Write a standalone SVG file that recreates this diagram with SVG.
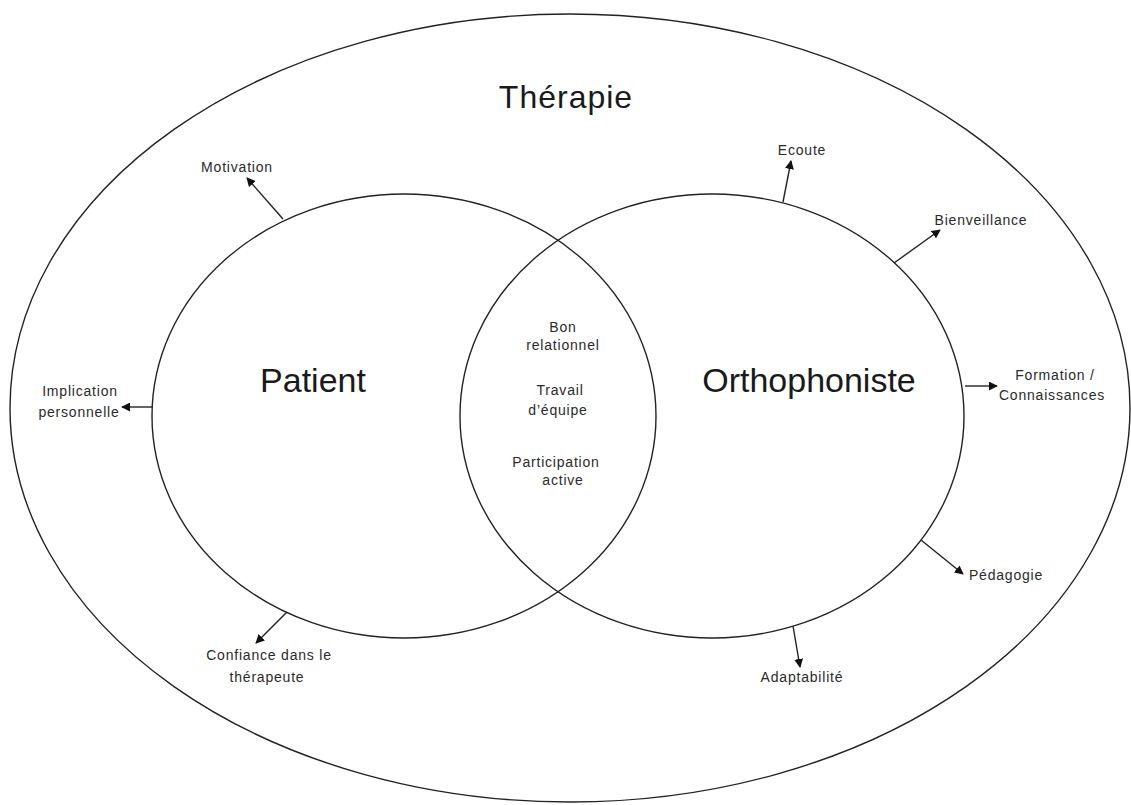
<svg xmlns="http://www.w3.org/2000/svg" width="1131" height="805" viewBox="0 0 1131 805">
<defs>
<marker id="ah" viewBox="0 0 10 10" refX="9" refY="5" markerWidth="9" markerHeight="9" markerUnits="userSpaceOnUse" orient="auto">
<path d="M0,0 L10,5 L0,10 z" fill="#111"/>
</marker>
<style>
.shape{fill:none;stroke:#222;stroke-width:1.4}
.conn{stroke:#222;stroke-width:1.4;fill:none;marker-end:url(#ah)}
.lbl{font-family:"Liberation Sans",Arial,sans-serif;font-size:14px;letter-spacing:0.8px;fill:#2a2a2a;text-anchor:middle}
.big{font-family:"Liberation Sans",Arial,sans-serif;font-size:34px;fill:#1a1a1a;text-anchor:middle}
</style>
</defs>
<rect width="1131" height="805" fill="#fff"/>
<g id="therapie">
<ellipse class="shape" cx="570" cy="408" rx="560" ry="394"/>
<text class="big" x="566" y="108" style="font-size:32px;letter-spacing:1px">Thérapie</text>
</g>
<g id="patient">
<ellipse class="shape" cx="404" cy="416" rx="252" ry="222"/>
<text class="big" x="313" y="392">Patient</text>
</g>
<g id="orthophoniste">
<ellipse class="shape" cx="712" cy="416" rx="252" ry="222"/>
<text class="big" x="809" y="392">Orthophoniste</text>
</g>
<g id="intersection">
<text class="lbl" x="563" y="332">Bon</text>
<text class="lbl" x="563" y="350">relationnel</text>
<text class="lbl" x="560" y="395">Travail</text>
<text class="lbl" x="558" y="415">d’équipe</text>
<text class="lbl" x="556" y="467">Participation</text>
<text class="lbl" x="563" y="485">active</text>
</g>
<g id="connectors">
<line class="conn" x1="283" y1="219" x2="247" y2="178"/>
<line class="conn" x1="153" y1="407" x2="122" y2="407"/>
<line class="conn" x1="287" y1="612" x2="256" y2="643"/>
<line class="conn" x1="783" y1="202" x2="791" y2="161"/>
<line class="conn" x1="894" y1="263" x2="940" y2="230"/>
<line class="conn" x1="965" y1="386" x2="997" y2="386"/>
<line class="conn" x1="921" y1="540" x2="963" y2="574"/>
<line class="conn" x1="793" y1="626" x2="800" y2="667"/>
</g>
<g id="label-motivation"><text class="lbl" x="237" y="172">Motivation</text></g>
<g id="label-implication">
<text class="lbl" x="80" y="396">Implication</text>
<text class="lbl" x="79" y="417">personnelle</text>
</g>
<g id="label-confiance">
<text class="lbl" x="269" y="660">Confiance dans le</text>
<text class="lbl" x="267" y="682">thérapeute</text>
</g>
<g id="label-ecoute"><text class="lbl" x="802" y="155">Ecoute</text></g>
<g id="label-bienveillance"><text class="lbl" x="981" y="225">Bienveillance</text></g>
<g id="label-formation">
<text class="lbl" x="1055" y="380">Formation /</text>
<text class="lbl" x="1052" y="400">Connaissances</text>
</g>
<g id="label-pedagogie"><text class="lbl" x="1006" y="580">Pédagogie</text></g>
<g id="label-adaptabilite"><text class="lbl" x="802" y="682">Adaptabilité</text></g>
</svg>
